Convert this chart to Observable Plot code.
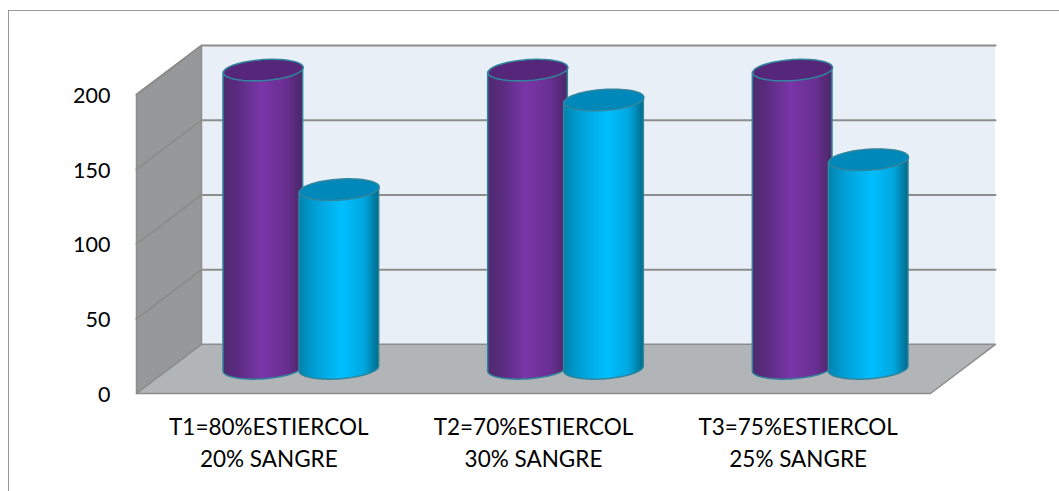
<!DOCTYPE html>
<html lang="es">
<head>
<meta charset="utf-8">
<title>Tratamientos de estiércol y sangre</title>
<script src="https://cdn.jsdelivr.net/npm/d3@7"></script>
<script src="https://cdn.jsdelivr.net/npm/@observablehq/plot@0.6"></script>
<style>
  html, body { margin: 0; padding: 0; background: #fff; overflow: hidden; }
  #chart { position: relative; width: 1059px; height: 491px; }
  #frame { position: absolute; left: 8px; top: 10px; right: -4px; bottom: -4px;
           border: 1.5px solid #9a9a9a; pointer-events: none; }
  #chart svg { position: absolute; left: 0; top: 0; }
</style>
</head>
<body>
<div id="chart"><div id="frame"></div></div>
<script>
// Chart values
const categories = ["T1=80%ESTIERCOL\n20% SANGRE", "T2=70%ESTIERCOL\n30% SANGRE", "T3=75%ESTIERCOL\n25% SANGRE"];
const purpleValues = [200, 200, 200];
const blueValues = [120, 180, 140];
const yTicks = [0, 50, 100, 150, 200];
const wallTicks = [50, 100, 150];

// Depth of the pseudo-3D box, in x units (categories) and y units (value)
const depthX = 0.2456;
const depthY = 32.9;
const yMax = 200;
const xMax = categories.length;

// Cylinder shape, in the same units
const radiusX = 0.1505;
const radiusY = 7.0;
const tilt = 1.7;
const offset = 0.1436;

const steps = 72;
const angles = d3.range(steps + 1).map((i) => (i / steps) * 2 * Math.PI);
const frontAngles = d3.range(steps + 1).map((i) => Math.PI + (i / steps) * Math.PI);

// Point on a slightly tilted ellipse seated at mid-depth of the box
const rimX = (cx, t) => cx + radiusX * Math.cos(t);
const rimY = (value, t) => value + depthY / 2 + radiusY * Math.sin(t) + tilt * Math.cos(t);

function cylinder(cx, value, gradient, capFill) {
  const body = frontAngles.map((t) => ({x: rimX(cx, t), y1: rimY(0, t), y2: rimY(value, t)}));
  const cap = angles.map((t) => ({x: rimX(cx, t), y: rimY(value, t)}));
  return [
    Plot.areaY(body, {x: "x", y1: "y1", y2: "y2", fill: `url(#${gradient})`, stroke: "#31859c", strokeWidth: 1.5}),
    Plot.line(cap, {x: "x", y: "y", fill: capFill, stroke: "#31859c", strokeWidth: 1.5})
  ];
}

// Shared horizontal gradients for the cylinder bodies
function gradients() {
  const svg = d3.create("svg:g");
  const defs = svg.append("defs");
  const add = (id, stops) => {
    const g = defs.append("linearGradient").attr("id", id);
    stops.forEach(([o, c]) => g.append("stop").attr("offset", o).attr("stop-color", c));
  };
  add("purpleBody", [[0, "#4f2a6e"], [0.18, "#5a2b80"], [0.48, "#7a35a8"], [0.78, "#6a2f94"], [1, "#4a2766"]]);
  add("blueBody", [[0, "#0083ad"], [0.2, "#009fd6"], [0.55, "#00bfff"], [0.82, "#00a6de"], [1, "#006a8a"]]);
  return svg.node();
}

const polygon = (points, options) =>
  Plot.line(points, {x: (d) => d[0], y: (d) => d[1], ...options});

const edge = {stroke: "#8d8d8b", strokeWidth: 2};

const plot = Plot.plot({
  width: 1059,
  height: 491,
  marginLeft: 136,
  marginRight: 64,
  marginTop: 45,
  marginBottom: 98,
  style: {background: "transparent", fontFamily: "Lato, sans-serif", fontSize: "22px", color: "#000"},
  x: {domain: [0, xMax + depthX]},
  y: {domain: [0, yMax + depthY]},
  marks: [
    gradients,
    // Back wall
    Plot.rect([0], {x1: depthX, x2: xMax + depthX, y1: depthY, y2: yMax + depthY, fill: "#e8eff7"}),
    // Left wall
    polygon([[0, 0], [depthX, depthY], [depthX, yMax + depthY], [0, yMax], [0, 0]], {fill: "#96989a", stroke: "#8d8d8b", strokeWidth: 1.5}),
    // Floor
    polygon([[0, 0], [depthX, depthY], [xMax + depthX, depthY], [xMax, 0], [0, 0]], {fill: "#b2b5b8", stroke: "#8d8d8b", strokeWidth: 1.5}),
    // Gridlines folded over the two walls
    ...wallTicks.map((v) => polygon([[0, v], [depthX, v + depthY], [xMax + depthX, v + depthY]], edge)),
    polygon([[0, yMax], [depthX, yMax + depthY], [xMax + depthX, yMax + depthY]], edge),
    // Cylinders, each pair centred on its category at mid-depth
    ...categories.flatMap((c, i) => {
      const centre = i + 0.5 + depthX / 2;
      return [
        ...cylinder(centre - offset, purpleValues[i], "purpleBody", "#56267a"),
        ...cylinder(centre + offset, blueValues[i], "blueBody", "#0088bb")
      ];
    }),
    Plot.axisY({ticks: yTicks, tickSize: 0, tickPadding: 26, dy: 1.5, label: null, fontSize: 21.5}),
    Plot.axisX({
      ticks: categories.map((c, i) => i + 0.5),
      tickFormat: (d) => categories[Math.floor(d)],
      tickSize: 0,
      tickPadding: 18,
      lineHeight: 1.44,
      label: null,
      fontSize: 22.5
    })
  ]
});

document.getElementById("chart").appendChild(plot);
</script>
</body>
</html>
